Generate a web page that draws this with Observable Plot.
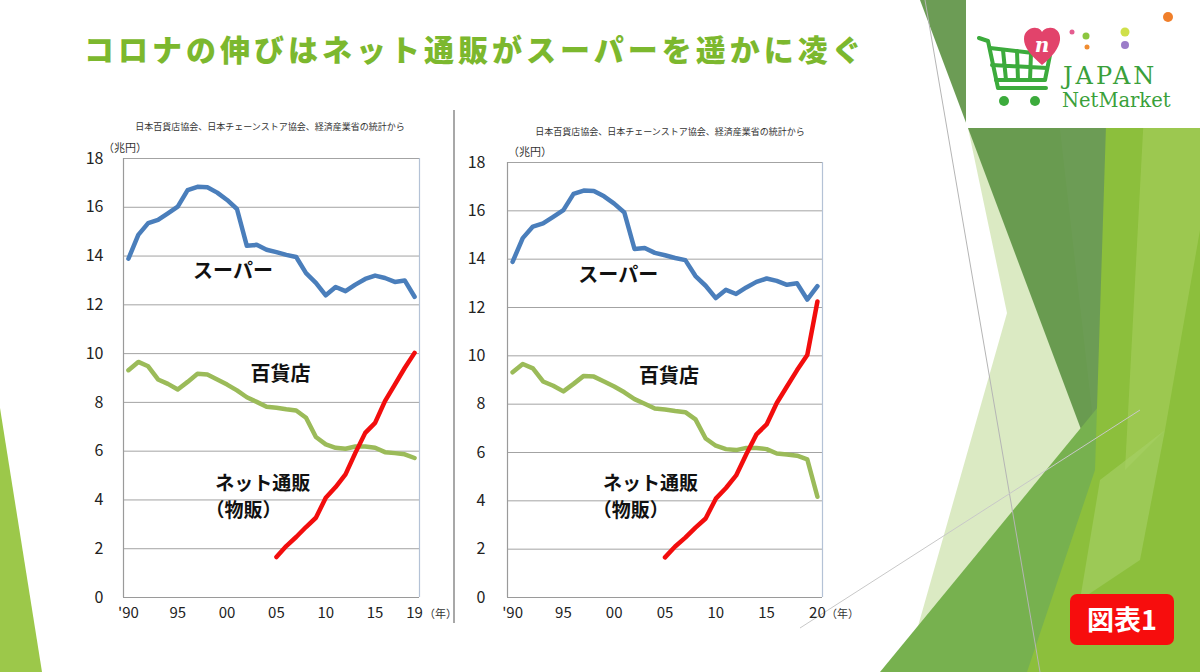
<!DOCTYPE html>
<html><head><meta charset="utf-8">
<script src="https://cdn.jsdelivr.net/npm/d3@7"></script>
<script src="https://cdn.jsdelivr.net/npm/@observablehq/plot@0.6"></script>
<style>
body{margin:0;width:1200px;height:672px;overflow:hidden;background:#fff;position:relative;font-family:"Noto Sans CJK JP","Noto Sans",sans-serif;}
.abs{position:absolute;white-space:nowrap;}
.src{font-size:9px;color:#333;transform:translate(-50%,-50%);}
.unit{font-size:11px;color:#333;transform:translateY(-50%);}
svg.plot-svg{background:transparent;}
</style></head><body>

<svg class="abs" style="left:0;top:0" width="1200" height="672" id="deco">
  <polygon points="0,408 42,672 0,672" fill="#9cc84a"/>
  <polygon points="968,128 1060,128 1100,480 960,672 905,672 1007,313" fill="#d7e8bd" opacity="0.9"/>
  <polygon points="920,0 1120,0 1100,480" fill="#5f9446" opacity="0.92"/>
  <polygon points="880,672 1200,283 1200,672" fill="#77b14f"/>
  <polygon points="1110,0 1200,0 1200,672 1027,672 1095,470" fill="#8cbf3c"/>
  <polygon points="1150,0 1200,0 1200,230 1165,430 1125,470" fill="#a0cb55" opacity="0.8"/>
  <polygon points="1100,480 1165,430 1140,560 1080,600" fill="#a7d067" opacity="0.6"/>
  <line x1="925" y1="0" x2="1040" y2="672" stroke="#b5b5b5" stroke-width="1"/>
  <line x1="800" y1="628" x2="1140" y2="410" stroke="#c8c8c8" stroke-width="1"/>
  <rect x="966" y="0" width="234" height="128" fill="#fff"/>
  <!-- logo -->
  <g fill="none" stroke="#3cab3c" stroke-width="4" stroke-linejoin="round" stroke-linecap="round">
    <path d="M979,38 L988,41 L998,88 L1046,88"/>
    <path d="M990,48 L1050,55 L1045,80 L996,80"/>
    <path d="M1003,50 L1006,80 M1017,51 L1018,80 M1031,53 L1030,80 M992,65 L1047,68"/>
  </g>
  <circle cx="1004" cy="101" r="5" fill="#3cab3c"/>
  <circle cx="1035" cy="101" r="5" fill="#3cab3c"/>
  <path d="M1042,65 C1030,55 1024,47 1024,39 C1024,31 1031,27 1036,28 C1039,28 1041,30 1042,32 C1043,30 1046,28 1049,28 C1055,27 1061,32 1060,40 C1059,48 1053,56 1042,65 Z" fill="#e2436b"/>
  <text x="1042" y="52" font-family="DejaVu Serif" font-style="italic" font-weight="bold" font-size="20" fill="#fff" text-anchor="middle">n</text>
  <circle cx="1072" cy="32" r="2.5" fill="#e45c8f"/>
  <circle cx="1086" cy="36" r="3.5" fill="#8cc63f"/>
  <circle cx="1087" cy="47" r="2.5" fill="#f08c30"/>
  <circle cx="1125" cy="45" r="4" fill="#9b7cc8"/>
  <circle cx="1125" cy="32" r="4.5" fill="#cfe04a"/>
  <circle cx="1168" cy="17" r="5" fill="#f07f2a"/>
  <text x="1063" y="84" font-family="DejaVu Serif" font-size="24" fill="#3aa03a" letter-spacing="3">JAPAN</text>
  <text x="1062" y="107" font-family="DejaVu Serif" font-size="19.5" fill="#3aa03a">NetMarket</text>
</svg>

<div class="abs" id="title" style="left:84px;top:32px;font-size:30px;font-weight:900;color:#7cb82e;letter-spacing:4px;line-height:32px;">コロナの伸びはネット通販がスーパーを遥かに凌ぐ</div>

<div class="abs" id="c1" style="left:60px;top:100px"></div>
<div class="abs" id="c2" style="left:450px;top:100px"></div>

<div class="abs src" style="left:270px;top:126px">日本百貨店協会、日本チェーンストア協会、経済産業省の統計から</div>
<div class="abs src" style="left:670px;top:131px">日本百貨店協会、日本チェーンストア協会、経済産業省の統計から</div>
<div class="abs unit" style="left:103px;top:147px">（兆円）</div>
<div class="abs unit" style="left:508px;top:151px">（兆円）</div>
<div class="abs unit" style="left:424px;top:613px">（年）</div>
<div class="abs unit" style="left:826px;top:613px">（年）</div>

<svg class="abs" style="left:0;top:0;pointer-events:none" width="1200" height="672">
  <line x1="454" y1="110" x2="454" y2="623" stroke="#a8a8a8" stroke-width="2"/>
  <rect x="1070" y="594" width="104" height="51" rx="7" fill="#f70d0d"/>
  <text x="1122" y="630" text-anchor="middle" font-family="Noto Sans CJK JP" font-weight="bold" font-size="27" fill="#fff">図表1</text>
</svg>

<script>
// ---- data ----
const years = [1990,1991,1992,1993,1994,1995,1996,1997,1998,1999,2000,2001,2002,2003,2004,2005,2006,2007,2008,2009,2010,2011,2012,2013,2014,2015,2016,2017,2018,2019,2020];
const supermarket = [13.89,14.87,15.35,15.48,15.75,16.03,16.70,16.84,16.82,16.60,16.30,15.93,14.42,14.46,14.26,14.16,14.05,13.96,13.30,12.90,12.39,12.73,12.56,12.83,13.06,13.20,13.10,12.94,13.00,12.33,12.88];
const deptStore = [9.32,9.66,9.48,8.94,8.76,8.53,8.84,9.17,9.14,8.94,8.73,8.49,8.21,8.02,7.82,7.78,7.72,7.67,7.37,6.58,6.28,6.14,6.10,6.19,6.19,6.14,5.96,5.92,5.87,5.72,4.17];
const netYears = [2005,2006,2007,2008,2009,2010,2011,2012,2013,2014,2015,2016,2017,2018,2019,2020];
const netSales = [1.66,2.11,2.48,2.89,3.27,4.09,4.53,5.05,5.93,6.75,7.16,8.05,8.73,9.41,10.03,12.25];
const yTicks = [0,2,4,6,8,10,12,14,16,18];
const xTicksLeft = [1990,1995,2000,2005,2010,2015,2019];
const xLabelsLeft = ["'90","95","00","05","10","15","19"];
const xTicksRight = [1990,1995,2000,2005,2010,2015,2020];
const xLabelsRight = ["'90","95","00","05","10","15","20"];
// series name labels: centred (super, dept) and left-aligned (net, 2 lines)
const centerNames = ["スーパー","百貨店"];
const startNames = ["ネット通販","（物販）"];
const labelsLeft = {cYear:[2000.6,2005.4], cValue:[13.37,9.14], sYear:[1998.8,1997.8], sValue:[4.66,3.56]};
const labelsRight = {cYear:[2000.4,2005.4], cValue:[13.3,9.14], sYear:[1998.9,1997.9], sValue:[4.68,3.58]};

const colors = {super:"#4a7ebb", dept:"#9bbb59", net:"#f20d0d"};
const FONT = '"Noto Sans CJK JP","Noto Sans",sans-serif';

function build(el, maxYear, ticks, tickLabels, labels, size) {
  const sup = years.map((y,i)=>({year:y, value:supermarket[i]})).filter(d=>d.year<=maxYear);
  const dep = years.map((y,i)=>({year:y, value:deptStore[i]})).filter(d=>d.year<=maxYear);
  const net = netYears.map((y,i)=>({year:y, value:netSales[i]})).filter(d=>d.year<=maxYear);
  const cLab = centerNames.map((t,i)=>({text:t, year:labels.cYear[i], value:labels.cValue[i]}));
  const sLab = startNames.map((t,i)=>({text:t, year:labels.sYear[i], value:labels.sValue[i]}));
  const fmt = d => tickLabels[ticks.indexOf(d)];
  const chart = Plot.plot({
    width:size.width, height:size.height,
    marginLeft:size.ml, marginRight:size.mr, marginTop:size.mt, marginBottom:size.mb,
    style:{fontFamily:FONT, fontSize:"16px", color:"#222", background:"transparent"},
    x:{domain:[1989.5, maxYear+0.5], label:null},
    y:{domain:[0,18], label:null},
    marks:[
      Plot.ruleY(yTicks.filter(d=>d>0), {stroke:"#a3a3a3", strokeWidth:1}),
      Plot.ruleX([maxYear+0.5], {stroke:"#b4c2d6", strokeWidth:1.2}),
      Plot.ruleX([1989.5], {stroke:"#9a9a9a", strokeWidth:1.2}),
      Plot.ruleY([0], {stroke:"#9a9a9a", strokeWidth:1.2}),
      Plot.axisY(yTicks, {tickSize:0, tickPadding:size.ypad, fontSize:16}),
      Plot.axisX(ticks, {tickSize:0, tickPadding:10, tickFormat:fmt, fontSize:15}),
      Plot.line(dep, {x:"year", y:"value", stroke:colors.dept, strokeWidth:4.5, strokeLinejoin:"round"}),
      Plot.line(sup, {x:"year", y:"value", stroke:colors.super, strokeWidth:4.5, strokeLinejoin:"round"}),
      Plot.line(net, {x:"year", y:"value", stroke:colors.net, strokeWidth:4.5, strokeLinejoin:"round"}),
      Plot.text(cLab, {x:"year", y:"value", text:"text", textAnchor:"middle", fontSize:20, fontWeight:"bold", fill:"#111"}),
      Plot.text(sLab, {x:"year", y:"value", text:"text", textAnchor:"start", fontSize:19, fontWeight:"bold", fill:"#111", lineHeight:1})
    ]
  });
  chart.classList.add("plot-svg");
  document.getElementById(el).appendChild(chart);
}

build("c1", 2019, xTicksLeft, xLabelsLeft, labelsLeft, {width:400, height:540, ml:63, mr:41, mt:58, mb:43, ypad:20});
build("c2", 2020, xTicksRight, xLabelsRight, labelsRight, {width:420, height:540, ml:57, mr:48, mt:62, mb:43, ypad:22});
</script>
</body></html>
